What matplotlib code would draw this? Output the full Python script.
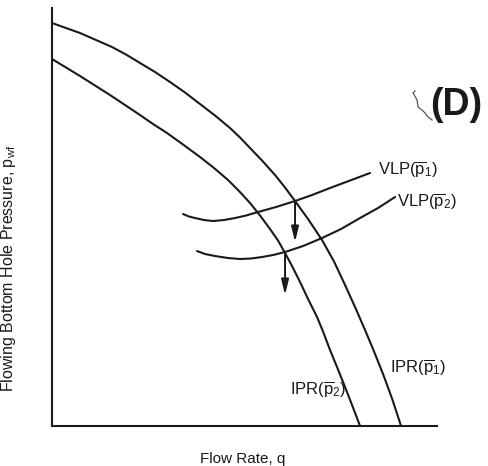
import matplotlib
matplotlib.use("Agg")
import matplotlib.pyplot as plt

plt.rcParams["font.family"] = ["Liberation Sans", "DejaVu Sans"]
plt.rcParams["mathtext.fontset"] = "custom"
plt.rcParams["mathtext.rm"] = "Liberation Sans"
plt.rcParams["mathtext.it"] = "Liberation Sans:italic"

INK = "#1a1a1a"

# IPR curves (flow rate q vs bottom hole pressure), arbitrary units
ipr1_q = [0, 14, 28, 44, 60, 74, 88, 103, 118, 133, 148, 163, 178, 188, 198,
          210, 223, 233, 243, 256, 270, 282, 293, 303, 313, 322, 331, 340, 349]
ipr1_p = [403, 398, 393, 386, 379, 371.5, 363, 354, 344, 333.5, 322, 310.5, 298, 288.5, 278,
          265.5, 251, 238.5, 225, 207, 186, 164.5, 141, 119, 96, 74.5, 52, 27.5, 0]
ipr2_q = [0, 14, 28, 43, 58, 73, 88, 101, 115, 131, 148, 162, 176, 187, 198,
          208, 218, 226, 233, 240, 248, 256, 265, 271, 278, 286, 293, 300, 308]
ipr2_p = [367, 358.5, 350, 340.5, 331, 321, 311, 302, 293, 281.5, 269, 258, 246, 235, 223,
          210.5, 197, 185.5, 173, 160, 144, 127, 109, 94.5, 76, 56.5, 39, 21, 0]

# VLP curves
vlp1_q = [131, 137, 143, 152, 161, 172, 183, 194, 206, 224, 243, 260, 278, 298, 318]
vlp1_p = [212, 209.5, 208, 206, 205, 206, 208, 210.5, 214, 219, 225, 231, 238, 245.5, 253]
vlp2_q = [145, 153, 163, 176, 188, 199, 210, 221, 233, 251, 270, 289, 308, 326, 343]
vlp2_p = [175, 172, 170, 168, 167, 167.5, 169, 171, 174, 180, 188, 197, 208, 218, 229]

# operating-point shift arrows: (q, p_start, p_end)
arrows = [(243, 225, 184), (233, 173, 131)]

# curve labels: (text, q, p)
labels = [
    (r"VLP($\overline{\mathrm{p}}_1$)", 326, 256),
    (r"VLP($\overline{\mathrm{p}}_2$)", 345, 224),
    (r"IPR($\overline{\mathrm{p}}_1$)", 338, 58),
    (r"IPR($\overline{\mathrm{p}}_2$)", 238, 36),
]

# hand-drawn hook next to the panel tag
hook_q = [363, 361, 365, 366, 370, 373, 376, 380]
hook_p = [335, 333, 326, 319, 316, 313, 309, 306]

fig = plt.figure(figsize=(4.88, 4.66), dpi=100)
ax = fig.add_axes([0.1066, 0.0858, 0.789, 0.897])

for q, p in [(ipr1_q, ipr1_p), (ipr2_q, ipr2_p), (vlp1_q, vlp1_p), (vlp2_q, vlp2_p)]:
    ax.plot(q, p, color=INK, lw=1.5, solid_capstyle="round", solid_joinstyle="round")

for q, p0, p1 in arrows:
    ax.annotate("", xy=(q, p1), xytext=(q, p0),
                arrowprops=dict(arrowstyle="-|>,head_length=0.9,head_width=0.22",
                                color=INK, lw=1.4, shrinkA=0, shrinkB=0))

for txt, q, p in labels:
    ax.text(q, p, txt, fontsize=12, color=INK, ha="left", va="center")

ax.plot(hook_q, hook_p, color="#555555", lw=0.9, clip_on=False)
ax.text(378, 321, "(D)", fontsize=27, fontweight="bold", color=INK,
        ha="left", va="center")

ax.set_xlim(0, 385)
ax.set_ylim(0, 418)
ax.set_xticks([])
ax.set_yticks([])
for s in ["top", "right"]:
    ax.spines[s].set_visible(False)
for s in ["left", "bottom"]:
    ax.spines[s].set_linewidth(1.5)
    ax.spines[s].set_color(INK)

ax.set_xlabel("Flow Rate, q", fontsize=11, color=INK)
ax.xaxis.set_label_coords(0.496, -0.062)
ax.set_ylabel(r"Flowing Bottom Hole Pressure, p$_{\mathrm{wf}}$", fontsize=11.5, color=INK)
ax.yaxis.set_label_coords(-0.088, 0.378)

fig.savefig("out.png", dpi=100)
